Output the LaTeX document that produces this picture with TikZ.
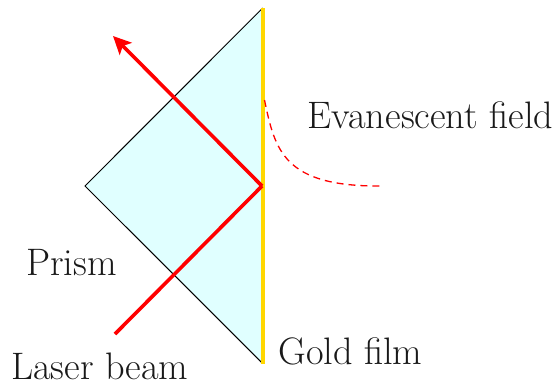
\documentclass[tikz,border=0pt]{standalone}
\usepackage{fontspec}
\usetikzlibrary{arrows.meta}
\definecolor{prismfill}{RGB}{224,255,255}
\definecolor{goldfilm}{RGB}{255,215,0}
\tikzset{lab/.style={font=\fontsize{38.3}{42}\selectfont,inner sep=0pt,anchor=base west,text=black!90},
beam/.style={red,line width=3.6pt}}
\begin{document}
\begin{tikzpicture}[x=1pt,y=-1pt]
\useasboundingbox (0,0) rectangle (553,383);
\coordinate (top) at (262.7,8);
\coordinate (left) at (85,186);
\coordinate (bot) at (262.7,363.5);
\coordinate (hit) at (262,186);
\coordinate (start) at (115,334);
\coordinate (end) at (113,36);
\coordinate (f0) at (264.5,100);
\coordinate (f1) at (382,186);
\fill[prismfill] (top)--(left)--(bot)--cycle;
\draw[line width=1pt] (bot)--(left)--(top);
\draw[line width=3.8pt,draw=goldfilm] (top)--(bot);
\draw[red,dash pattern=on 7pt off 5pt,line width=1.3pt] (f0) .. controls (275,150) and (283,187) .. (f1);
\draw[beam] (start)--(hit);
\draw[beam,-{Stealth[length=18pt,width=17pt,inset=4pt]}] (hit)--(end);
\node[lab] (e) at (307.5,128) {Evanescent field};
\node[lab] (p) at (26,275) {Prism};
\node[lab] (g) at (278,364) {Gold film};
\node[lab] (l) at (11,379) {Laser beam};
\end{tikzpicture}
\end{document}
